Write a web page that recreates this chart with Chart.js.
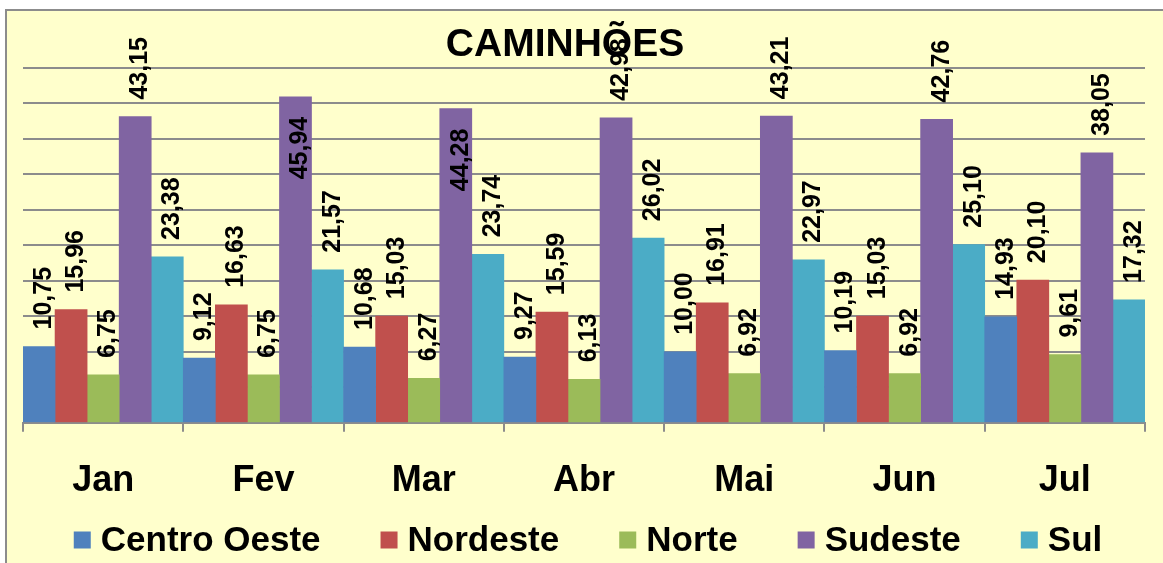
<!DOCTYPE html>
<html>
<head>
<meta charset="utf-8">
<script src="https://cdn.jsdelivr.net/npm/chart.js@4"></script>
<style>
  body { margin: 0; background: #fff; }
  #wrap { width: 1163px; height: 563px; position: relative; }
</style>
</head>
<body>
<div id="wrap"><canvas id="chart"></canvas></div>
<script>
// Data
const months = ['Jan', 'Fev', 'Mar', 'Abr', 'Mai', 'Jun', 'Jul'];
const centroOeste = [10.75, 9.12, 10.68, 9.27, 10.00, 10.19, 14.93];
const nordeste = [15.96, 16.63, 15.03, 15.59, 16.91, 15.03, 20.10];
const norte = [6.75, 6.75, 6.27, 6.13, 6.92, 6.92, 9.61];
const sudeste = [43.15, 45.94, 44.28, 42.98, 43.21, 42.76, 38.05];
const sul = [23.38, 21.57, 23.74, 26.02, 22.97, 25.10, 17.32];
const yMax = 50;
const yStep = 5;

const FONT = '"Liberation Sans", Arial, sans-serif';

// Background + frame
const backgroundPlugin = {
    id: 'background',
    beforeDraw(chart) {
        const ctx = chart.ctx;
        ctx.save();
        ctx.fillStyle = '#ffffff';
        ctx.fillRect(0, 0, chart.width, chart.height);
        ctx.fillStyle = '#FFFFCC';
        ctx.fillRect(6, 10, chart.width, chart.height);
        ctx.strokeStyle = '#8c8c8c';
        ctx.lineWidth = 2;
        ctx.beginPath();
        ctx.moveTo(6, chart.height + 5);
        ctx.lineTo(6, 10);
        ctx.lineTo(chart.width + 5, 10);
        ctx.stroke();
        ctx.restore();
    }
};

// Rotated value labels (outside end, moved inside if too tall)
const valueLabelPlugin = {
    id: 'valueLabels',
    afterDatasetsDraw(chart) {
        const ctx = chart.ctx;
        ctx.save();
        ctx.font = 'bold 25px ' + FONT;
        ctx.fillStyle = '#000';
        ctx.textBaseline = 'alphabetic';
        chart.data.datasets.forEach((ds, i) => {
            const meta = chart.getDatasetMeta(i);
            meta.data.forEach((bar, j) => {
                const text = ds.data[j].toFixed(2).replace('.', ',');
                const w = ctx.measureText(text).width;
                let y = bar.y - 17;
                let align = 'left';
                if (y - w < 30) {
                    y = bar.y + 20;
                    align = 'right';
                }
                ctx.save();
                ctx.translate(bar.x + 12, y);
                ctx.rotate(-Math.PI / 2);
                ctx.textAlign = align;
                ctx.fillText(text, 0, 0);
                ctx.restore();
            });
        });
        ctx.restore();
    }
};

// Title and legend
const titleLegendPlugin = {
    id: 'titleLegend',
    afterDraw(chart) {
        const ctx = chart.ctx;
        ctx.save();
        ctx.fillStyle = '#000';
        ctx.font = 'bold 39px ' + FONT;
        ctx.textAlign = 'center';
        ctx.textBaseline = 'middle';
        ctx.fillText('CAMINHÕES', 565, 45);

        // legend
        ctx.font = 'bold 35px ' + FONT;
        ctx.textAlign = 'left';
        const box = 17, gapText = 10, gapItem = 60;
        const items = chart.data.datasets.map(ds => ({
            label: ds.label,
            color: ds.backgroundColor,
            w: ctx.measureText(ds.label).width
        }));
        let total = 0;
        items.forEach((it, k) => {
            total += box + gapText + it.w + (k > 0 ? gapItem : 0);
        });
        let x = 588 - total / 2;
        const cy = 540;
        items.forEach(it => {
            ctx.fillStyle = it.color;
            ctx.fillRect(x, cy - box / 2, box, box);
            ctx.fillStyle = '#000';
            ctx.fillText(it.label, x + box + gapText, cy + 1);
            x += box + gapText + it.w + gapItem;
        });
        ctx.restore();
    }
};

new Chart(document.getElementById('chart'), {
    type: 'bar',
    data: {
        labels: months,
        datasets: [
            { label: 'Centro Oeste', data: centroOeste, backgroundColor: '#4F81BD' },
            { label: 'Nordeste', data: nordeste, backgroundColor: '#C0504D' },
            { label: 'Norte', data: norte, backgroundColor: '#9BBB59' },
            { label: 'Sudeste', data: sudeste, backgroundColor: '#8064A2' },
            { label: 'Sul', data: sul, backgroundColor: '#4BACC6' }
        ]
    },
    options: {
        responsive: true,
        maintainAspectRatio: false,
        animation: false,
        categoryPercentage: 1,
        barPercentage: 1,
        layout: {
            padding: { left: 23, right: 18, top: 68, bottom: 32 }
        },
        plugins: {
            legend: { display: false },
            title: { display: false },
            tooltip: { enabled: false }
        },
        scales: {
            x: {
                grid: {
                    drawOnChartArea: false,
                    drawTicks: true,
                    tickLength: 9,
                    color: '#8c8c8c',
                    lineWidth: 2
                },
                border: { display: true, color: '#8c8c8c', width: 2 },
                ticks: {
                    color: '#000',
                    padding: 28,
                    font: { family: FONT, size: 36, weight: 'bold' }
                }
            },
            y: {
                min: 0,
                max: yMax,
                ticks: { display: false, stepSize: yStep },
                grid: { color: '#8c8c8c', lineWidth: 2, drawTicks: false },
                border: { display: false }
            }
        }
    },
    plugins: [backgroundPlugin, valueLabelPlugin, titleLegendPlugin]
});
</script>
</body>
</html>
